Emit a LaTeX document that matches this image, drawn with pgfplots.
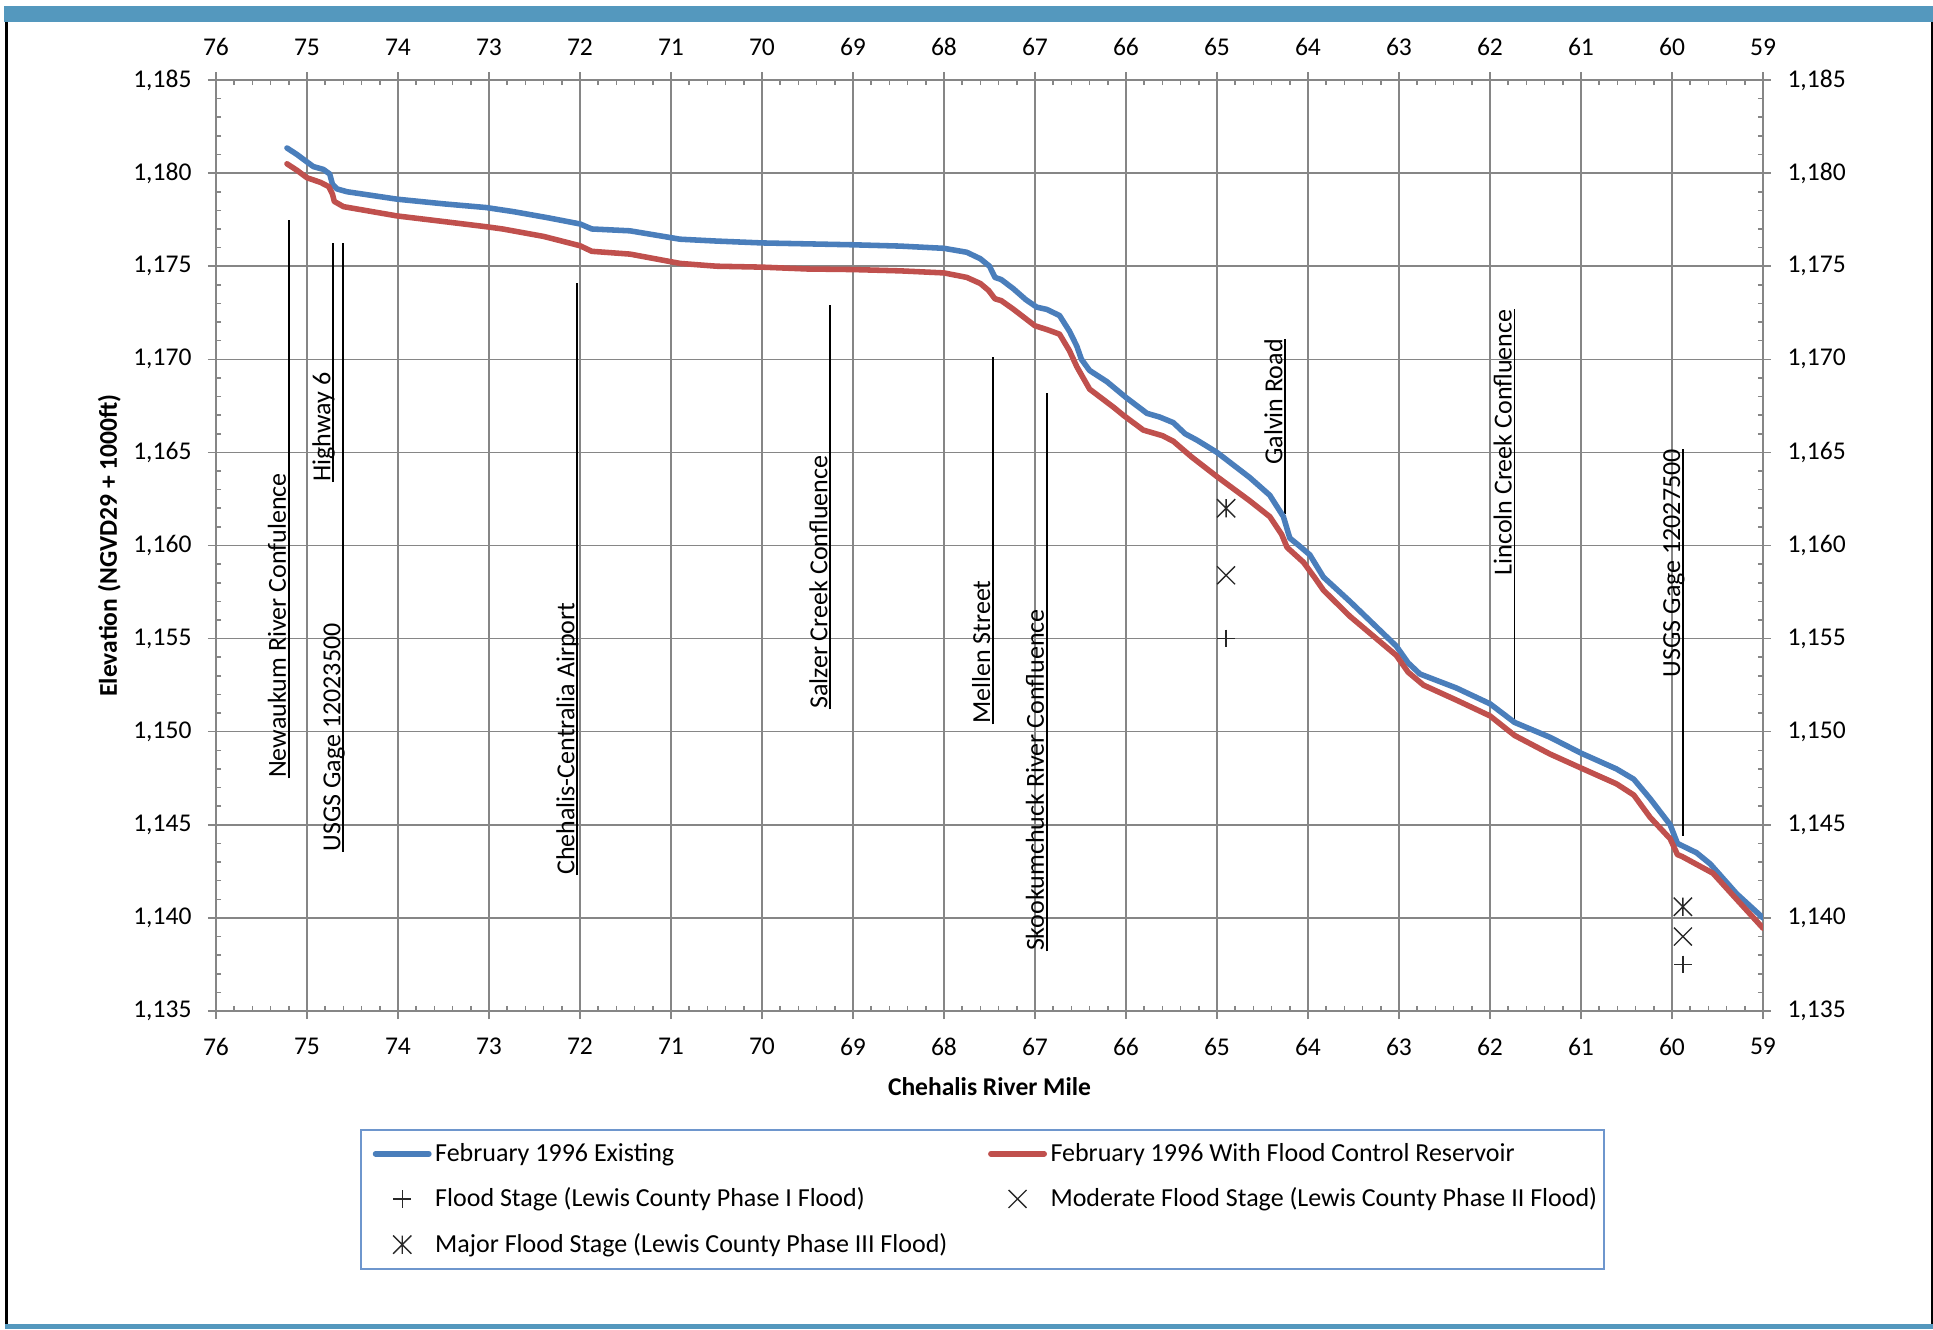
\documentclass[border=0pt]{standalone}
\usepackage{fontspec}
\setmainfont{Carlito}
\usepackage{pgfplots}
\pgfplotsset{compat=1.18}

\definecolor{exblue}{RGB}{74,126,187}
\definecolor{resred}{RGB}{192,80,77}
\definecolor{gridgray}{RGB}{134,134,134}
\definecolor{framebar}{RGB}{84,152,190}
\definecolor{legframe}{RGB}{110,150,205}
\definecolor{markgray}{RGB}{40,40,40}

% cross with a vertical bar (major flood stage)
\pgfdeclareplotmark{xstar}{%
  \pgfpathmoveto{\pgfqpoint{-.7071\pgfplotmarksize}{-.7071\pgfplotmarksize}}%
  \pgfpathlineto{\pgfqpoint{.7071\pgfplotmarksize}{.7071\pgfplotmarksize}}%
  \pgfpathmoveto{\pgfqpoint{-.7071\pgfplotmarksize}{.7071\pgfplotmarksize}}%
  \pgfpathlineto{\pgfqpoint{.7071\pgfplotmarksize}{-.7071\pgfplotmarksize}}%
  \pgfpathmoveto{\pgfqpoint{0pt}{-.7071\pgfplotmarksize}}%
  \pgfpathlineto{\pgfqpoint{0pt}{.7071\pgfplotmarksize}}%
  \pgfusepathqstroke}

\pgfplotsset{
  profile legend/.style={legend image code/.code={\draw[##1] (0pt,0pt) -- (24pt,0pt);}},
  stage legend/.style={legend image code/.code={\draw[mark repeat=2,mark phase=2,##1] plot coordinates {(0pt,0pt) (12pt,0pt) (24pt,0pt)};}},
  common frame/.style={
    at={(97.2pt,143.1pt)}, anchor=south west,
    scale only axis, width=696.15pt, height=418.95pt,
    xmin=59, xmax=76, ymin=1135, ymax=1185, x dir=reverse,
    xtick={59,...,76}, ytick={1135,1140,...,1185},
    minor x tick num=4, minor y tick num=4,
    tick align=outside, major tick length=3.6pt, minor tick length=-2.3pt,
    tick style={gridgray, line width=0.7pt},
    axis line style={gridgray, line width=0.7pt},
    /pgf/number format/assume math mode=true,
    /pgf/number format/1000 sep={,},
    tick label style={font=\fontsize{11.5}{13}\selectfont, text=black},
  },
}

\newcommand{\labfont}{\fontsize{11.7}{13}\selectfont}

\begin{document}
\begin{tikzpicture}
\path[use as bounding box] (0,0) rectangle (869.85pt,598.05pt);
\fill[white] (0,0) rectangle (869.85pt,598.05pt);
% page frame
\fill[framebar] (1.8pt,588.15pt) rectangle (869.85pt,595.35pt);
\fill[framebar] (2.25pt,0pt) rectangle (869.85pt,2.25pt);
\fill[black] (2.25pt,2.25pt) rectangle (3.6pt,588.15pt);
\fill[black] (868.95pt,2.25pt) rectangle (869.85pt,588.15pt);

\begin{axis}[
  common frame,
  grid=major, major grid style={gridgray, line width=0.7pt},
  xticklabel style={yshift=-5pt},
  yticklabel style={xshift=-3.9pt},
  xlabel={Chehalis River Mile},
  ylabel={Elevation (NGVD29 + 1000ft)},
  every axis x label/.style={at={(axis description cs:0.5,-0.0812)}, anchor=center,
    font=\bfseries\fontsize{11.5}{13}\selectfont},
  every axis y label/.style={at={(axis description cs:-0.069,0.5)}, rotate=90, anchor=center,
    font=\bfseries\fontsize{11.5}{13}\selectfont},
  legend columns=2,
  legend cell align=left,
  legend style={at={(0.0931,-0.1267)}, anchor=north west,
    draw=legframe, line width=0.7pt, fill=white,
    font=\fontsize{11.7}{13}\selectfont,
    inner xsep=5.4pt, inner ysep=2.5pt,
    nodes={inner xsep=0pt, inner ysep=3.5pt},
    column sep=1.6pt, row sep=3.5pt},
]

% landmark lines
\addplot[black, line width=0.8pt, forget plot] coordinates {(75.20,1147.5) (75.20,1177.5)};
\addplot[black, line width=0.8pt, forget plot] coordinates {(74.71,1163.4) (74.71,1176.26)};
\addplot[black, line width=0.8pt, forget plot] coordinates {(74.60,1143.55) (74.60,1176.26)};
\addplot[black, line width=0.8pt, forget plot] coordinates {(72.03,1142.3) (72.03,1174.1)};
\addplot[black, line width=0.8pt, forget plot] coordinates {(69.25,1151.2) (69.25,1172.9)};
\addplot[black, line width=0.8pt, forget plot] coordinates {(67.46,1150.4) (67.46,1170.1)};
\addplot[black, line width=0.8pt, forget plot] coordinates {(66.87,1138.2) (66.87,1168.2)};
\addplot[black, line width=0.8pt, forget plot] coordinates {(64.25,1161.7) (64.25,1171.1)};
\addplot[black, line width=0.8pt, forget plot] coordinates {(61.73,1150.5) (61.73,1172.7)};
\addplot[black, line width=0.8pt, forget plot] coordinates {(59.88,1144.4) (59.88,1165.2)};

% February 1996 existing conditions
\addplot[exblue, line width=2.5pt, line join=round, line cap=round, profile legend] coordinates {
(75.22,1181.35) (75.11,1181.0) (75.00,1180.6) (74.93,1180.35) (74.82,1180.2)
(74.75,1179.95) (74.72,1179.4) (74.67,1179.15) (74.56,1179.0) (74.01,1178.6)
(73.50,1178.35) (73.03,1178.15) (72.73,1177.93) (72.35,1177.6) (72.00,1177.27)
(71.87,1177.0) (71.45,1176.9) (70.90,1176.45) (70.50,1176.35) (70.00,1176.25)
(69.50,1176.2) (69.00,1176.15) (68.48,1176.08) (68.00,1175.96) (67.75,1175.75)
(67.60,1175.4) (67.50,1175.0) (67.44,1174.4) (67.37,1174.28) (67.24,1173.8)
(67.10,1173.2) (66.98,1172.8) (66.87,1172.68) (66.73,1172.35) (66.62,1171.5)
(66.54,1170.7) (66.49,1170.0) (66.40,1169.4) (66.21,1168.8) (66.00,1167.95)
(65.77,1167.1) (65.63,1166.9) (65.48,1166.6) (65.35,1166.0) (65.22,1165.66)
(65.00,1165.0) (64.64,1163.65) (64.42,1162.7) (64.27,1161.55) (64.20,1160.4)
(64.10,1160.0) (63.98,1159.5) (63.83,1158.3) (63.54,1157.0) (63.03,1154.6)
(62.90,1153.7) (62.77,1153.1) (62.37,1152.35) (62.00,1151.5) (61.73,1150.5)
(61.34,1149.7) (61.00,1148.85) (60.61,1148.0) (60.42,1147.45) (60.24,1146.4)
(60.02,1145.0) (59.94,1144.0) (59.73,1143.5) (59.58,1142.9) (59.29,1141.3)
(59.00,1140.0)
};
\addlegendentry{\makebox[247.2pt][l]{February 1996 Existing}}

% February 1996 with flood control reservoir
\addplot[resred, line width=2.5pt, line join=round, line cap=round, profile legend] coordinates {
(75.22,1180.5) (75.11,1180.15) (75.00,1179.75) (74.85,1179.5) (74.76,1179.27)
(74.72,1178.87) (74.70,1178.48) (74.60,1178.2) (74.01,1177.7) (73.50,1177.4)
(73.03,1177.12) (72.85,1177.0) (72.40,1176.6) (72.00,1176.1) (71.87,1175.8)
(71.45,1175.65) (70.90,1175.15) (70.50,1175.0) (70.00,1174.95) (69.50,1174.85)
(69.00,1174.82) (68.48,1174.75) (68.00,1174.64) (67.75,1174.4) (67.60,1174.07)
(67.51,1173.7) (67.44,1173.25) (67.37,1173.15) (67.24,1172.7) (67.00,1171.8)
(66.87,1171.6) (66.73,1171.35) (66.62,1170.45) (66.54,1169.6) (66.40,1168.4)
(66.13,1167.4) (66.03,1167.0) (65.81,1166.2) (65.60,1165.9) (65.48,1165.6)
(65.28,1164.76) (65.00,1163.7) (64.64,1162.4) (64.42,1161.55) (64.29,1160.6)
(64.23,1159.9) (64.05,1159.1) (63.93,1158.3) (63.83,1157.6) (63.54,1156.2)
(63.03,1154.1) (62.90,1153.2) (62.73,1152.5) (62.37,1151.7) (62.00,1150.85)
(61.73,1149.8) (61.34,1148.8) (61.00,1148.05) (60.61,1147.2) (60.42,1146.6)
(60.24,1145.4) (60.02,1144.25) (59.94,1143.4) (59.89,1143.3) (59.55,1142.4)
(59.29,1141.0) (59.00,1139.45)
};
\addlegendentry{\makebox[243.6pt][l]{February 1996 With Flood Control Reservoir}}

% flood stages at the two gages
\addplot[only marks, mark=+, mark size=4pt, markgray, line width=0.6pt, stage legend]
  coordinates {(64.90,1155.0) (59.88,1137.5)};
\addlegendentry{Flood Stage (Lewis County Phase I Flood)}
\addplot[only marks, mark=x, mark size=5.7pt, markgray, line width=0.6pt, stage legend]
  coordinates {(64.90,1158.4) (59.88,1139.0)};
\addlegendentry{\makebox[243.6pt][l]{Moderate Flood Stage (Lewis County Phase II Flood)}}
\addplot[only marks, mark=xstar, mark size=5.8pt, markgray, line width=0.6pt, stage legend]
  coordinates {(64.90,1162.0) (59.88,1140.6)};
\addlegendentry{Major Flood Stage (Lewis County Phase III Flood)}

% landmark names
\begin{scope}[every node/.style={font=\labfont, inner sep=0pt}]
\node[xshift=-1.3pt, rotate=90, anchor=base west] at (axis cs:75.20,1147.5) {Newaukum River Confulence};
\node[xshift=-1.3pt, rotate=90, anchor=base west] at (axis cs:74.71,1163.4) {Highway 6};
\node[xshift=-1.3pt, rotate=90, anchor=base west] at (axis cs:74.60,1143.55) {USGS Gage 12023500};
\node[xshift=-1.3pt, rotate=90, anchor=base west] at (axis cs:72.03,1142.3) {Chehalis-Centralia Airport};
\node[xshift=-1.3pt, rotate=90, anchor=base west] at (axis cs:69.25,1151.2) {Salzer Creek Confluence};
\node[xshift=-1.3pt, rotate=90, anchor=base west] at (axis cs:67.46,1150.4) {Mellen Street};
\node[xshift=-1.3pt, rotate=90, anchor=base west] at (axis cs:66.87,1138.2) {Skookumchuck River Confluence};
\node[xshift=-1.3pt, rotate=90, anchor=base east] at (axis cs:64.25,1171.1) {Galvin Road};
\node[xshift=-1.3pt, rotate=90, anchor=base east] at (axis cs:61.73,1172.7) {Lincoln Creek Confluence};
\node[xshift=-1.3pt, rotate=90, anchor=base east] at (axis cs:59.88,1165.2) {USGS Gage 12027500};
\end{scope}
\end{axis}

% tick labels on the top and right sides
\begin{axis}[
  common frame,
  tick style={draw=none}, axis line style={draw=none},
  xticklabel pos=right, yticklabel pos=right,
  xticklabel style={yshift=4pt},
  yticklabel style={xshift=3.9pt},
]
\end{axis}
\end{tikzpicture}
\end{document}
